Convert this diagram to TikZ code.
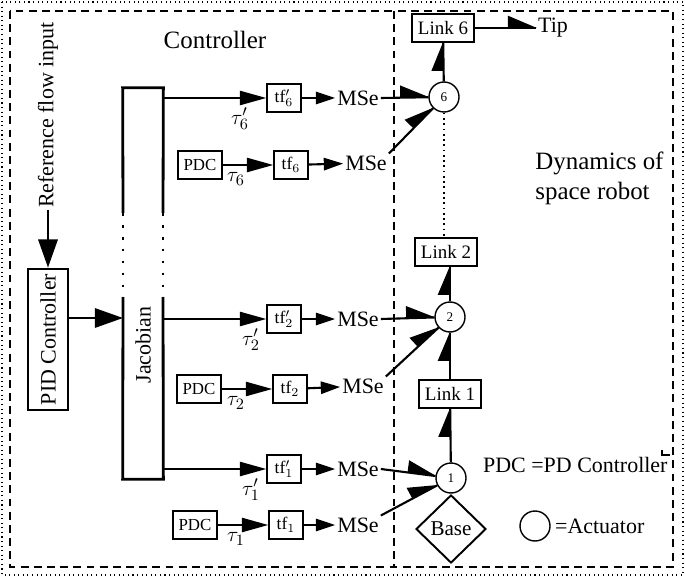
\documentclass[tikz,border=0pt]{standalone}
\usepackage{fontspec}
\setmainfont{Liberation Serif}
\usetikzlibrary{arrows.meta,shapes.geometric,decorations.markings}

\tikzset{
  boite/.style={draw, line width=0.8pt, inner sep=0pt, minimum height=0.56cm, font=\fontsize{10}{12}\selectfont},
  boitetf/.style={boite, minimum width=0.68cm},
  boitepdc/.style={boite, minimum width=0.88cm, font=\fontsize{9.6}{11}\selectfont},
  boitelien/.style={boite, minimum width=1.24cm, font=\fontsize{10.8}{12}\selectfont},
  boiteepaisse/.style={draw, line width=1.6pt, inner sep=0pt},
  actionneur/.style={circle, draw, line width=0.8pt, minimum size=0.6cm, inner sep=0pt, font=\fontsize{7.5}{9}\selectfont},
  texte/.style={font=\fontsize{12.5}{14}\selectfont, inner sep=1pt},
  titre/.style={font=\fontsize{14.2}{17}\selectfont, inner sep=0pt},
  fleche/.style={line width=1.2pt, -{Triangle[length=15pt,width=8pt]}},
  grossefleche/.style={line width=1.2pt, -{Triangle[length=16pt,width=11pt]}},
  petitefleche/.style={line width=1.2pt, -{Triangle[length=11pt,width=7pt]}},
  % demi-fleche (bond graph)
  lien/.style={line width=1.2pt, postaction={decorate},
    decoration={markings, mark=at position 1 with {\fill (0.5pt,0pt) -- (-16pt,0pt) -- (-16pt,7pt) -- cycle;}}},
  cadre/.style={line width=0.8pt, dash pattern=on 4.5pt off 3pt},
  pointille/.style={line width=1.6pt, dash pattern=on 1.5pt off 5.3pt},
}

\begin{document}
\begin{tikzpicture}[x=0.02cm, y=-0.02cm]
  \useasboundingbox (0,0) rectangle (685,577);

  % Cadres
  \draw[dotted, line width=0.6pt] (2,2) rectangle (683,575);
  \draw[cadre] (10,11) rectangle (673,567);
  \draw[cadre] (394,11) -- (394,567);

  % Titres
  \node[titre] (ctrl) at (215,40) {Controller};
  \node[titre, align=left, anchor=west] (dyn) at (535,178) {Dynamics of\\space robot};

  % Entree et PID
  \node[texte, rotate=90, anchor=west] (ref) at (48,210) {Reference flow input};
  \node[boiteepaisse, minimum width=0.8cm, minimum height=2.82cm] (pid) at (48,339.5) {};
  \node[texte, rotate=90] (pidtxt) at (pid) {PID Controller};
  \draw[grossefleche] (ref.west) -- (pid.north);

  % Jacobien
  \node[minimum width=0.8cm, minimum height=7.82cm, inner sep=0pt] (jac) at (143,283.5) {};
  \node[texte, rotate=90] (jactxt) at (143,345) {Jacobian};
  \draw[line width=1.6pt] (123,213) -- (jac.north west) -- (jac.north east) -- (163,213);
  \draw[line width=1.6pt] (123,297) -- (jac.south west) -- (jac.south east) -- (163,297);
  \draw[pointille] (123,213) -- (123,297) (163,213) -- (163,297);
  \coordinate (jin) at (123,318);
  \draw[grossefleche] (pid.east |- jin) -- (jin);

  % Actionneurs et liens
  \node[actionneur] (c6) at (444,97) {6};
  \node[actionneur] (c2) at (450,317) {2};
  \node[actionneur] (c1) at (451,478) {1};
  \node[boitelien] (link6) at (443,28) {Link 6};
  \node[boitelien] (link2) at (446,252) {Link 2};
  \node[boitelien] (link1) at (450,394) {Link 1};
  \node[diamond, draw, line width=1.1pt, minimum width=1.4cm, minimum height=1.36cm, inner sep=0pt, font=\fontsize{12}{14}\selectfont] (base) at (451,529) {Base};
  \node[texte] (tip) at (553,28) {Tip};

  \draw[lien] (c1) -- (link1);
  \draw[lien] (link1) -- (c2);
  \draw[lien] (c2.north) -- (c2.north |- link2.south);
  \draw[dotted, line width=1pt] (c6.south) -- (c6.south |- link2.north);
  \draw[lien] (c6) -- (link6);
  \draw[lien] (link6.east) -- (tip.west);

  % Branches de commande
  \foreach \n/\ya/\yb/\dx/\xt/\xm/\ym in {6/98/165/2/240/366/163, 2/319/389/1/251/363/386, 1/469/525/-3/251/358/525} {
      \node[boitetf] (tfp\n) at (284,\ya) {tf$_\n'$};
      \node[texte] (msea\n) at (358,\ya) {MSe};
      \node[boitepdc] (pdc\n) at (198+\dx,\yb) {PDC};
      \node[boitetf] (tf\n) at (289+\dx,\yb) {tf$_\n$};
      \node[texte] (mseb\n) at (\xm,\ym) {MSe};
      \node[texte] (taup\n) at (\xt,\ya+21) {$\tau_\n'$};
      \node[texte] (tau\n) at (236,\yb+14) {$\tau_\n$};
      \draw[fleche] (jac.east |- tfp\n) -- (tfp\n);
      \draw[petitefleche] (tfp\n) -- (msea\n);
      \draw[fleche] (pdc\n) -- (tf\n);
      \draw[petitefleche] (tf\n) -- (mseb\n);
      \draw[lien] (msea\n.east) -- (c\n);
      \draw[lien] (mseb\n.north east) -- (c\n);
  }

  % Legende
  \node[texte, anchor=west] (pdcleg) at (481,465) {PDC =PD Controller};
  \draw[line width=0.6pt] (662,450) -- (662,455) -- (670,455);
  \node[actionneur] (leg) at (535,526) {};
  \node[texte, anchor=west] (legtxt) at (553,526) {=Actuator};
\end{tikzpicture}
\end{document}
